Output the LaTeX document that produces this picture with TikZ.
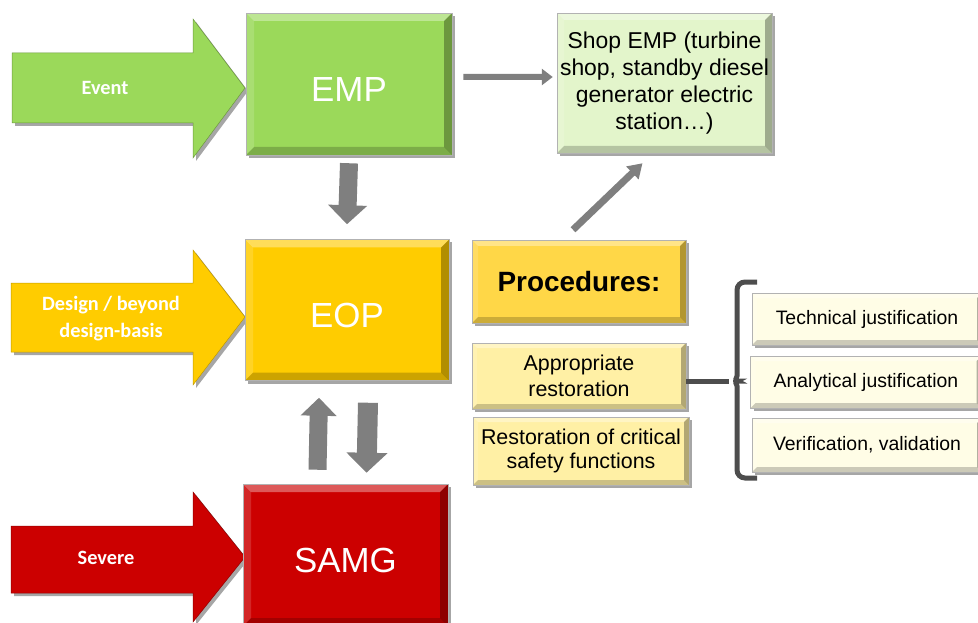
\documentclass[tikz,border=0pt]{standalone}
\usepackage{fontspec}
\setmainfont{Liberation Sans}
\newfontfamily\labelfont{Carlito}
\usetikzlibrary{positioning}
\usetikzlibrary{arrows.meta}
\usetikzlibrary{shadows}

\definecolor{empgreen}{HTML}{9BD95A}
\definecolor{shopgreen}{HTML}{E3F5CB}
\definecolor{eopyellow}{HTML}{FFCC00}
\definecolor{samgred}{HTML}{CC0000}
\definecolor{procgold}{HTML}{FFD747}
\definecolor{paleyellow}{HTML}{FFF0A5}
\definecolor{cream}{HTML}{FFFDE6}
\definecolor{arrowgray}{HTML}{7F7F7F}
\definecolor{bracketgray}{HTML}{4D4D4D}

\tikzset{
  bevel/.style={path picture={
    \fill[white,opacity=.35] (path picture bounding box.north west) -- (path picture bounding box.north east)
      -- ([shift={(-#1,-#1)}]path picture bounding box.north east) -- ([shift={(#1,-#1)}]path picture bounding box.north west) -- cycle;
    \fill[white,opacity=.15] (path picture bounding box.north west) -- ([shift={(#1,-#1)}]path picture bounding box.north west)
      -- ([shift={(#1,#1)}]path picture bounding box.south west) -- (path picture bounding box.south west) -- cycle;
    \fill[black,opacity=.2] (path picture bounding box.south west) -- ([shift={(#1,#1)}]path picture bounding box.south west)
      -- ([shift={(-#1,#1)}]path picture bounding box.south east) -- (path picture bounding box.south east) -- cycle;
    \fill[black,opacity=.3] (path picture bounding box.south east) -- ([shift={(-#1,#1)}]path picture bounding box.south east)
      -- ([shift={(-#1,-#1)}]path picture bounding box.north east) -- (path picture bounding box.north east) -- cycle;
  }},
  bevel/.default=7bp,
  boxshadow/.style={drop shadow={shadow xshift=3bp, shadow yshift=-3bp, fill=black, opacity=.35}},
  panel/.style={rectangle, draw=black!30, line width=.5bp, align=center, inner sep=3bp, boxshadow},
  bigbox/.style={panel, bevel=8bp, minimum width=206bp, minimum height=142bp, text=white, text height=36bp,
    font=\fontsize{35}{40}\selectfont},
  smallbox/.style={panel, bevel=5bp},
  arrowlabel/.style={text=white, align=center, font=\labelfont\bfseries\fontsize{20.4}{27}\selectfont},
  blockarrow/.style={arrowgray, line width=18bp, -{Triangle[length=19bp,width=38bp]}},
  thinarrow/.style={arrowgray, line width=6bp, -{Triangle[length=11bp,width=16bp]}},
  bracketline/.style={bracketgray, line width=5bp},
}

\begin{document}
\begin{tikzpicture}[x=1bp, y=-1bp]

    \useasboundingbox (0,0) rectangle (978,623);

    % big input arrows
    \fill[empgreen, draw=empgreen!70!black, line width=.5bp, boxshadow]
        (12,53) -- (193,53) -- (193,19) -- (245,88) -- (193,158) -- (193,123) -- (12,123) -- cycle;
    \fill[eopyellow, draw=eopyellow!75!black, line width=.5bp, boxshadow]
        (11,283) -- (193,283) -- (193,250) -- (245,317) -- (193,385) -- (193,352) -- (11,352) -- cycle;
    \fill[samgred, draw=samgred!70!black, line width=.5bp, boxshadow]
        (11,526) -- (193,526) -- (193,492) -- (245,557) -- (193,622) -- (193,593) -- (11,593) -- cycle;

    \node[arrowlabel] (event) at (105,88) {Event};
    \node[arrowlabel] (design) at (111,319) {Design / beyond\\design-basis};
    \node[arrowlabel] (severe) at (106,558) {Severe};

    % main procedure boxes
    \node[bigbox, fill=empgreen] (emp) at (349,84) {EMP};
    \node[bigbox, fill=eopyellow, minimum width=204bp, minimum height=141bp] (eop) at (347,310) {EOP};
    \node[bigbox, fill=samgred, minimum width=205bp] (samg) at (345.5,555) {SAMG};

    \node[smallbox, bevel=7bp, fill=shopgreen, minimum width=215bp, minimum height=140bp,
        font=\fontsize{23}{27}\selectfont] (shop) at (664.5,83)
        {Shop EMP (turbine\\shop, standby diesel\\generator electric\\station…)};

    % procedures column
    \node[smallbox, bevel=6bp, fill=procgold, minimum width=214bp, minimum height=83bp,
        font=\bfseries\fontsize{28}{32}\selectfont] (proc) at (579,281.5) {Procedures:};
    \node[smallbox, fill=paleyellow, minimum width=214bp, minimum height=66bp,
        font=\fontsize{21.5}{26}\selectfont] (appr) at (579,376) {Appropriate\\restoration};
    \node[smallbox, fill=paleyellow, minimum width=216bp, minimum height=68bp,
        font=\fontsize{21.5}{25}\selectfont] (rest) at (581,451) {Restoration of critical\\safety functions};

    % justification boxes
    \node[smallbox, fill=cream, minimum width=230bp, minimum height=52bp,
        font=\fontsize{19.5}{23}\selectfont] (tech) at (867,319) {Technical justification};
    \node[smallbox, fill=cream, minimum width=231bp, minimum height=52bp,
        font=\fontsize{19.5}{23}\selectfont] (anal) at (866,382) {Analytical justification};
    \node[smallbox, fill=cream, minimum width=230bp, minimum height=54bp,
        font=\fontsize{19.5}{23}\selectfont] (veri) at (867,445) {Verification, validation};

    % connectors
    \draw[blockarrow] ([yshift=-8bp]emp.south) -- ([yshift=15bp]eop.north);
    \draw[blockarrow, -{Triangle[length=18bp,width=35bp]}] ([shift={(-28bp,14bp)}]samg.north) -- ([shift={(-28bp,-17bp)}]eop.south);
    \draw[blockarrow, line width=20bp, -{Triangle[length=20bp,width=40bp]}] ([shift={(21bp,-22bp)}]eop.south) -- ([shift={(21bp,11bp)}]samg.north);

    \draw[thinarrow] ([shift={(11bp,7bp)}]emp.east) -- ([shift={(-4bp,6bp)}]shop.west);
    \draw[thinarrow, line width=7bp, -{Triangle[length=14bp,width=17bp]}] ([shift={(-6bp,10bp)}]proc.north) -- ([shift={(-22bp,-10bp)}]shop.south);

    % bracket
    \coordinate (cusp) at (729,381);
    \draw[bracketline, rounded corners=8bp] (757,282) -- (737,282) -- (737,368)
        .. controls (737,377) and (734,381) .. (cusp)
        .. controls (734,381) and (737,385) .. (737,394) -- (737,478) -- (757,478);
    \draw[bracketline] (appr.east |- cusp) -- (cusp);

\end{tikzpicture}
\end{document}
